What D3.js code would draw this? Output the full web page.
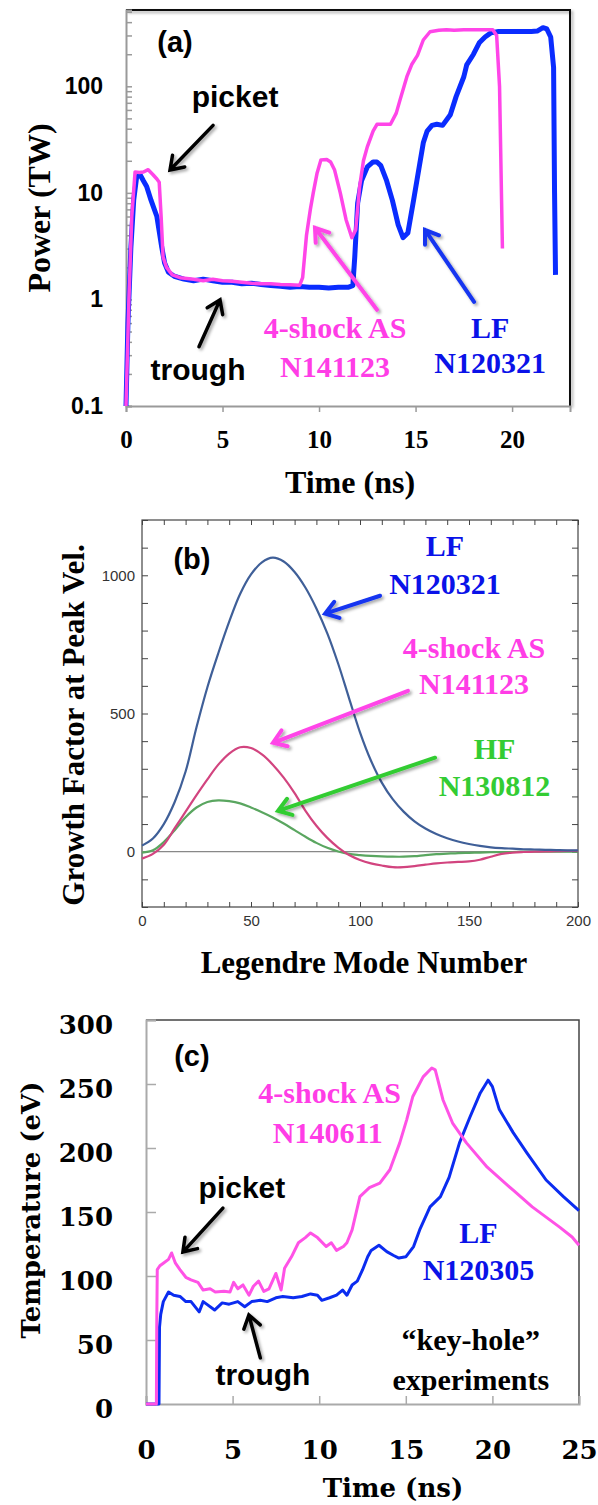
<!DOCTYPE html>
<html><head><meta charset="utf-8">
<script src="https://cdn.jsdelivr.net/npm/d3@7"></script>
<style>body{margin:0;background:#fff}svg{display:block}</style>
</head><body><svg id="c" width="598" height="1505"></svg>
<script>
// ---------- Panel (a): laser power (TW) vs time (ns) ----------
const lfTimeA  = [0,0.1,0.25,0.4,0.55,0.73,0.9,1.07,1.3,1.6,1.85,2.0,2.2,2.5,3.0,3.5,4.0,4.5,5.0,5.5,6.0,6.5,7.0,7.5,8.0,8.5,9.0,9.5,10.0,10.5,11.0,11.5,11.75,11.85,12.0,12.2,12.5,12.8,13.0,13.2,13.5,13.8,14.1,14.35,14.6,14.9,15.2,15.4,15.6,15.85,16.1,16.4,16.8,17.1,17.5,17.65,18.0,18.3,18.6,18.9,19.3,20.0,21.0,21.3,21.6,21.8,22.0,22.15,22.2,22.25];
const lfPowerA = [0.1,0.6,3,8.6,14,14.8,13,11.5,8.5,6.0,3.1,2.2,1.8,1.65,1.55,1.5,1.55,1.5,1.45,1.45,1.4,1.42,1.38,1.35,1.33,1.3,1.32,1.3,1.3,1.28,1.3,1.3,1.35,2.5,8,13,17.5,19.5,19.5,18,13,8.5,5,3.8,4.2,8.6,18,29.5,38,43,44,43,54,80,123,159,200,256,290,317,327,327,327,330,355,345,290,150,10,1.7];
const asTimeA  = [0,0.15,0.3,0.47,0.7,0.9,1.15,1.4,1.6,1.72,1.82,1.92,2.1,2.4,2.8,3.5,4.0,4.5,5.0,5.5,6.0,6.5,7.0,7.5,8.0,8.5,9.0,9.15,9.35,9.55,9.7,9.9,10.1,10.4,10.6,10.8,11.1,11.4,11.7,11.9,12.1,12.3,12.5,12.8,13.0,13.4,13.7,14.0,14.2,14.55,14.8,15.1,15.4,15.75,16.2,16.6,17.0,17.5,18.0,18.5,19.0,19.2,19.35,19.5];
const asPowerA = [0.1,1,6,15.7,15.5,15.7,16.5,14.8,13.5,12.6,6,2.5,2.0,1.7,1.6,1.55,1.5,1.55,1.5,1.48,1.45,1.42,1.4,1.4,1.38,1.37,1.36,1.6,4,7,10,15.4,20.4,20.6,19.5,16.5,10,5.6,3.8,4.5,11.4,20,27,38,44,44,44,56,75,123,160,195,272,325,335,340,335,340,340,340,340,300,100,3];
const xTicksA = [0,5,10,15,20];
const yLabelsA = [0.1,1,10,100];

// ---------- Panel (b): growth factor vs Legendre mode ----------
const modes = [0,5,10,15,20,25,30,35,40,45,50,55,60,65,70,75,80,85,90,95,100,105,110,115,120,125,130,135,140,145,150,155,160,165,170,175,180,185,190,195,200];
const lfGrowth = [22,48,100,180,290,450,595,718,832,932,1003,1047,1064,1050,1012,955,880,790,680,555,432,330,250,190,145,110,84,64,49,37,28,21,16,13,11,9,8,7,6,5,5];
const asGrowth = [-25,-8,25,85,145,205,262,315,355,378,375,352,315,268,212,148,94,50,15,-12,-30,-42,-50,-56,-56,-52,-47,-42,-39,-37,-35,-29,-18,-8,-3,-1,0,1,2,3,3];
const hfGrowth = [-3,5,35,78,125,160,180,186,183,175,160,143,124,102,78,54,32,14,1,-8,-12,-15,-17,-18,-18,-16,-12,-9,-7,-5,-4,-3,-2,-1,-1,0,0,0,0,0,0];
const xTicksB = [0,50,100,150,200];
const yLabelsB = [0,500,1000];

// ---------- Panel (c): radiation temperature vs time ----------
const asTimeC = [0,0.6,0.62,0.65,0.8,1.0,1.3,1.48,1.7,1.96,2.3,2.6,3.0,3.3,3.7,4.0,4.5,4.85,5.06,5.3,5.6,5.95,6.2,6.5,6.8,7.1,7.5,7.8,8.0,8.4,8.8,9.2,9.5,9.9,10.4,10.7,11.0,11.4,11.6,11.9,12.35,12.9,13.5,14.08,14.65,15.05,15.4,16.0,16.5,16.7,17.15,17.7,18.5,19.7,21.2,22.3,23.9,24.6,25];
const asTempC = [0,0,60,105,108,110,113,118,110,105,99,97,95,89,90,87.5,88,87.5,95,90,93,85,92,96,88,90,102,89,106,115,126,130,133.6,130,123,126,120,123,126,136,162,169,172.6,183,204,222,240,255.6,262.5,261,237.5,219.5,204,185,167,154,138,130.5,124];
const lfTimeC = [0,0.75,0.78,0.85,1.0,1.3,1.6,1.96,2.3,2.6,3.07,3.3,3.5,3.96,4.4,4.8,5.3,5.7,6.1,6.6,7.0,7.5,7.9,8.5,9.0,9.5,9.9,10.15,10.6,11.0,11.35,11.6,11.9,12.2,12.5,12.8,13.0,13.45,13.9,14.3,14.6,15.0,15.45,15.8,16.4,17.0,17.5,18.1,18.7,19.3,19.75,20.0,20.4,21.2,22.0,23.1,24.1,25];
const lfTempC = [0,0,60,70,80,87.5,85,84,80,80,72,80,78,73.4,79,78,80,76,80,81,80,83,84,83,84,86,85,81,83,85,89,85,93,96,104.7,115,120,124,119,116,114,115,123,136,154,162,177,204,224,243,253,248,230,212,196,175,162,151];
const xTicksC = [0,5,10,15,20,25];
const yTicksC = [0,50,100,150,200,250,300];

// ---------- styling ----------
const SERIF = "'Liberation Serif','Times New Roman',serif";
const SANS = "'Liberation Sans',Arial,sans-serif";
const CAMB = "'DejaVu Serif',serif";
const PINK = "#ff45e8", BLUE = "#0a2cff", PINKTXT = "#ff3de6", BLUETXT = "#0a12e8", GREENTXT = "#33cc33";

const svg = d3.select("#c");
const defs = svg.append("defs");
defs.append("filter").attr("id","sh").attr("x","-20%").attr("y","-20%").attr("width","150%").attr("height","150%")
  .append("feDropShadow").attr("dx",2).attr("dy",2).attr("stdDeviation",1.5).attr("flood-color","#000").attr("flood-opacity",0.35);

function zip(a,b){return a.map((v,i)=>[v,b[i]]);}
function arrow(g,x1,y1,x2,y2,color,w){
  const ang = Math.atan2(y1-y2,x1-x2), L=15, s=0.6;
  const a1=[x2+L*Math.cos(ang+s),y2+L*Math.sin(ang+s)], a2=[x2+L*Math.cos(ang-s),y2+L*Math.sin(ang-s)];
  g.append("path").attr("d",`M${x1},${y1}L${x2},${y2}M${a1[0]},${a1[1]}L${x2},${y2}L${a2[0]},${a2[1]}`)
    .attr("fill","none").attr("stroke",color).attr("stroke-width",w).attr("stroke-linecap","round").attr("stroke-linejoin","miter")
    .attr("filter","url(#sh)");
}
function label(g,x,y,txt,opt){
  g.append("text").attr("x",x).attr("y",y).attr("text-anchor",opt.anchor||"middle")
   .attr("font-family",opt.font||SERIF).attr("font-weight","bold").attr("font-size",opt.size||30)
   .attr("fill",opt.color||"#000").text(txt);
}

// ================= Panel (a) =================
{
  const g = svg.append("g");
  const x = d3.scaleLinear().domain([0,23]).range([126,570]);
  const y = d3.scaleLog().domain([0.1,520]).range([406,10]);
  g.append("path").attr("d",`M${x(0)},${y(520)}H${x(23)}V${y(0.1)}`).attr("fill","none").attr("stroke","#111").attr("stroke-width",2).attr("filter","url(#sh)");
  const minor=[];
  [0.1,1,10,100].forEach(d=>{for(let k=1;k<10;k++){const v=d*k; if(v<=520) minor.push(+v.toPrecision(3));}});
  const ya = g.append("g").attr("transform",`translate(${x(0)},0)`)
    .call(d3.axisLeft(y).tickValues(minor).tickSize(-6).tickPadding(23).tickFormat(d=>yLabelsA.includes(d)?String(d):""));
  ya.selectAll("text").attr("font-family",SANS).attr("font-weight","bold").attr("font-size",23).attr("fill","#000");
  const xa = g.append("g").attr("transform",`translate(0,${y(0.1)})`)
    .call(d3.axisBottom(x).tickValues(xTicksA).tickSize(6).tickPadding(18));
  xa.selectAll("text").attr("font-family",SERIF).attr("font-weight","bold").attr("font-size",25).attr("fill","#000");
  [ya,xa].forEach(a=>{a.select(".domain").attr("stroke","#9a9a9a").attr("stroke-width",2);a.selectAll(".tick line").attr("stroke","#9a9a9a").attr("stroke-width",1.5);});
  const line = d3.line().x(d=>x(d[0])).y(d=>y(d[1]));
  g.append("path").datum(zip(lfTimeA,lfPowerA)).attr("d",line).attr("fill","none").attr("stroke",BLUE).attr("stroke-width",5).attr("stroke-linejoin","round");
  g.append("path").datum(zip(asTimeA,asPowerA)).attr("d",line).attr("fill","none").attr("stroke",PINK).attr("stroke-width",3.5).attr("stroke-linejoin","round");
  label(g,x(2.54),y(211),"(a)",{font:SANS,size:29});
  label(g,x(5.65),y(64),"picket",{font:SANS,size:30});
  arrow(g,x(4.51),y(43),x(2.28),y(16.4),"#000",3.5);
  label(g,x(3.73),y(0.175),"trough",{font:SANS,size:30});
  arrow(g,x(3.78),y(0.36),x(4.87),y(0.99),"#000",3.5);
  label(g,x(10.83),y(0.435),"4-shock AS",{color:PINKTXT});
  label(g,x(10.83),y(0.187),"N141123",{color:PINKTXT});
  arrow(g,x(13.0),y(0.8),x(9.79),y(4.7),PINK,4);
  label(g,x(18.86),y(0.435),"LF",{color:BLUETXT});
  label(g,x(18.86),y(0.204),"N120321",{color:BLUETXT});
  arrow(g,x(18.03),y(0.95),x(15.49),y(4.5),"#1536f0",4);
  label(g,350,493,"Time (ns)",{size:32});
  g.append("text").attr("transform","translate(50,208) rotate(-90)").attr("text-anchor","middle")
    .attr("font-family",SERIF).attr("font-weight","bold").attr("font-size",32).text("Power (TW)");
}

// ================= Panel (b) =================
{
  const g = svg.append("g");
  const x = d3.scaleLinear().domain([0,200]).range([142,578]);
  const y = d3.scaleLinear().domain([-200,1200]).range([907,520]);
  g.append("rect").attr("x",x(0)).attr("y",y(1200)).attr("width",x(200)-x(0)).attr("height",y(-200)-y(1200)).attr("fill","none").attr("stroke","#444").attr("stroke-width",1.2);
  const xt = d3.range(0,201,10), yt = d3.range(-200,1201,100);
  const fmtX = d=>xTicksB.includes(d)?String(d):"", fmtY = d=>yLabelsB.includes(d)?String(d):"";
  const axes = [
    g.append("g").attr("transform",`translate(0,${y(-200)})`).call(d3.axisBottom(x).tickValues(xt).tickSize(-5).tickPadding(8).tickFormat(fmtX)),
    g.append("g").attr("transform",`translate(0,${y(1200)})`).call(d3.axisTop(x).tickValues(xt).tickSize(-5).tickFormat("")),
    g.append("g").attr("transform",`translate(${x(0)},0)`).call(d3.axisLeft(y).tickValues(yt).tickSize(-6).tickPadding(7).tickFormat(fmtY)),
    g.append("g").attr("transform",`translate(${x(200)},0)`).call(d3.axisRight(y).tickValues(yt).tickSize(-6).tickFormat(""))
  ];
  axes.forEach(a=>{a.select(".domain").remove();a.selectAll(".tick line").attr("stroke","#444");a.selectAll("text").attr("font-family",SANS).attr("font-size",15).attr("fill","#333");});
  g.append("line").attr("x1",x(0)).attr("x2",x(200)).attr("y1",y(0)).attr("y2",y(0)).attr("stroke","#888").attr("stroke-width",1.2);
  const line = d3.line().x(d=>x(d[0])).y(d=>y(d[1])).curve(d3.curveCatmullRom);
  g.append("path").datum(zip(modes,hfGrowth)).attr("d",line).attr("fill","none").attr("stroke","#5aa660").attr("stroke-width",2.2);
  g.append("path").datum(zip(modes,asGrowth)).attr("d",line).attr("fill","none").attr("stroke","#d2447f").attr("stroke-width",2.2);
  g.append("path").datum(zip(modes,lfGrowth)).attr("d",line).attr("fill","none").attr("stroke","#3f5f98").attr("stroke-width",2.2);
  label(g,x(22.9),y(1024),"(b)",{font:SANS,size:29});
  label(g,x(139),y(1071),"LF",{color:BLUETXT});
  label(g,x(139),y(933),"N120321",{color:BLUETXT});
  arrow(g,x(109.2),y(926),x(84),y(861),"#1536f0",4);
  label(g,x(152.3),y(702),"4-shock AS",{color:PINKTXT});
  label(g,x(152.3),y(572),"N141123",{color:PINKTXT});
  arrow(g,x(122),y(582),x(60.1),y(394),PINK,4);
  label(g,x(161.7),y(336),"HF",{color:GREENTXT});
  label(g,x(161.7),y(203),"N130812",{color:GREENTXT});
  arrow(g,x(134.4),y(340),x(62.4),y(148),"#33cc33",4);
  label(g,364,973,"Legendre Mode Number",{size:31});
  g.append("text").attr("transform","translate(84,725) rotate(-90)").attr("text-anchor","middle")
    .attr("font-family",SERIF).attr("font-weight","bold").attr("font-size",31).text("Growth Factor at Peak Vel.");
}

// ================= Panel (c) =================
{
  const g = svg.append("g");
  const x = d3.scaleLinear().domain([0,25]).range([146,579]);
  const y = d3.scaleLinear().domain([0,300]).range([1404,1020]);
  g.append("path").attr("d",`M${x(0)},${y(300)}H${x(25)}V${y(0)}`).attr("fill","none").attr("stroke","#444").attr("stroke-width",1.5);
  const ya = g.append("g").attr("transform",`translate(${x(0)},0)`).call(d3.axisLeft(y).tickValues(yTicksC).tickSize(-10).tickPadding(33));
  const xa = g.append("g").attr("transform",`translate(0,${y(0)})`).call(d3.axisBottom(x).tickValues(xTicksC).tickSize(-8).tickPadding(37));
  [ya,xa].forEach(a=>{a.select(".domain").attr("stroke","#aaa").attr("stroke-width",2);a.selectAll(".tick line").attr("stroke","#aaa").attr("stroke-width",1.5);
    a.selectAll("text").attr("font-family",CAMB).attr("font-weight","bold").attr("font-size",26).attr("fill","#000");});
  ya.selectAll("text").attr("dy","0.5em");
  const line = d3.line().x(d=>x(d[0])).y(d=>y(d[1]));
  g.append("path").datum(zip(lfTimeC,lfTempC)).attr("d",line).attr("fill","none").attr("stroke","#0b2cf0").attr("stroke-width",3).attr("stroke-linejoin","round");
  g.append("path").datum(zip(asTimeC,asTempC)).attr("d",line).attr("fill","none").attr("stroke","#ff52e6").attr("stroke-width",3).attr("stroke-linejoin","round");
  label(g,x(2.65),y(264),"(c)",{font:SANS,size:29});
  label(g,x(10.6),y(235),"4-shock AS",{color:PINKTXT});
  label(g,x(10.5),y(204),"N140611",{color:PINKTXT});
  label(g,x(5.54),y(161),"picket",{font:SANS,size:30});
  arrow(g,x(4.44),y(153),x(2.13),y(118.7),"#000",3.5);
  label(g,x(6.75),y(14.8),"trough",{font:SANS,size:30});
  arrow(g,x(6.6),y(36),x(5.94),y(69.5),"#000",3.5);
  label(g,x(19.2),y(125.8),"LF",{color:BLUETXT});
  label(g,x(19.2),y(96.9),"N120305",{color:BLUETXT});
  label(g,x(18.75),y(42.2),"\u201Ckey-hole\u201D",{});
  label(g,x(18.75),y(10.9),"experiments",{});
  label(g,393,1497,"Time (ns)",{font:CAMB,size:26});
  g.append("text").attr("transform","translate(40,1210) rotate(-90)").attr("text-anchor","middle")
    .attr("font-family",CAMB).attr("font-weight","bold").attr("font-size",26).text("Temperature (eV)");
}
</script></body></html>
